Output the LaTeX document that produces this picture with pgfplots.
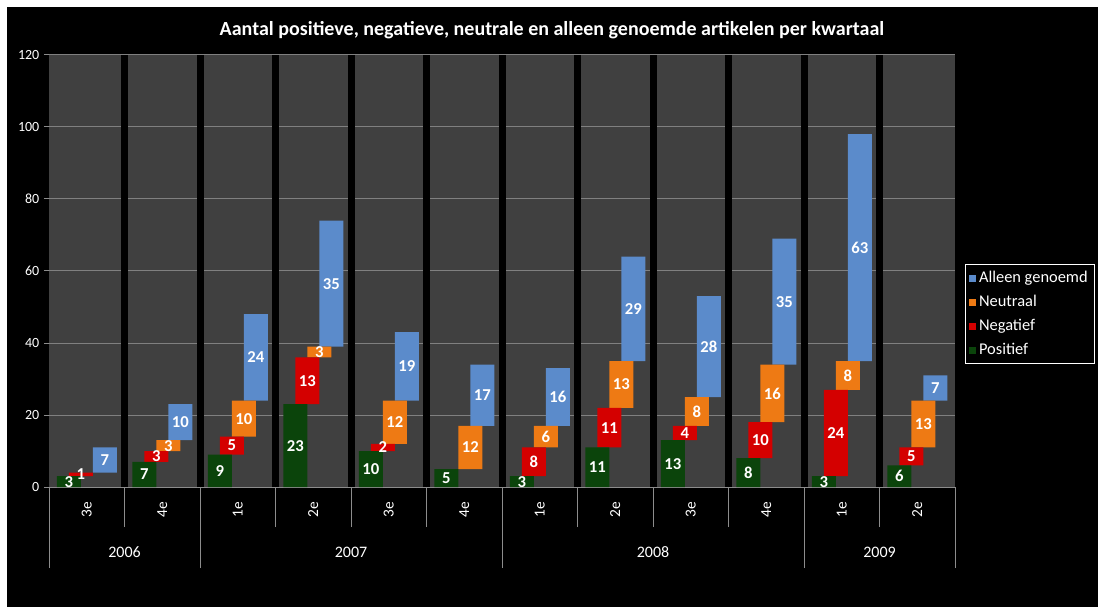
\documentclass[border=0pt]{standalone}
\usepackage{fontspec}
\setmainfont{Carlito}
\usepackage{pgfplots}
\usepackage{pgfplotstable}
\pgfplotsset{compat=1.18}

\definecolor{band}{HTML}{404040}
\definecolor{gridc}{HTML}{808080}
\definecolor{linec}{HTML}{8C8C8C}
\definecolor{cpos}{HTML}{0B440B}
\definecolor{cneg}{HTML}{D40000}
\definecolor{cneu}{HTML}{EE7A14}
\definecolor{call}{HTML}{5B8BCB}

% per kwartaal: positief, negatief, neutraal, alleen genoemd
\pgfplotstableread{
x pos neg neu all
0  3  1  0  7
1  7  3  3 10
2  9  5 10 24
3 23 13  3 35
4 10  2 12 19
5  5  0 12 17
6  3  8  6 16
7 11 11 13 29
8 13  4  8 28
9  8 10 16 35
10 3 24  8 63
11 6  5 13  7
}\data

\pgfplotsset{
  frame/.style={
    scale only axis, width=679.5pt, height=324pt,
    at={(36.75pt,90pt)}, anchor=south west,
    xmin=-0.5, xmax=11.5, ymin=0, ymax=120,
    /pgf/number format/assume math mode=true,
  },
  overlay axis/.style={
    frame, axis x line*=bottom, hide y axis,
    x axis line style={draw=none},
    tick align=outside,
    tick style={linec, line width=0.75pt},
  },
  vlabel/.style={
    draw=none, mark=none, nodes near coords, point meta=explicit,
    nodes near coords={\pgfmathfloatifflags{\pgfplotspointmeta}{0}{}{\pgfmathprintnumber{\pgfplotspointmeta}}},
    every node near coord/.append style={xshift=#1, anchor=center, text=white,
      font=\bfseries\fontsize{12.5}{14}\selectfont},
  },
}

\begin{document}
\begin{tikzpicture}
\fill[white] (0,0) rectangle (823.5pt,455.25pt);
\fill[black] (5.25pt,0) rectangle (823.5pt,450pt);
\path[use as bounding box] (0,0) rectangle (823.5pt,455.25pt);

% bars
\begin{axis}[frame,
  ybar stacked, bar width=18pt,
  axis background/.style={fill=band},
  axis x line*=bottom, axis y line*=left,
  x axis line style={linec, line width=0.75pt},
  y axis line style={draw=none},
  tick align=outside, major tick length=3.75pt,
  xtick style={draw=none},
  ytick style={linec, line width=0.75pt},
  xtick={0,...,11},
  xticklabels={3e,4e,1e,2e,3e,4e,1e,2e,3e,4e,1e,2e},
  x tick label style={yshift=-13pt, rotate=90, anchor=center, text=white,
    font=\fontsize{11.5}{13}\selectfont},
  ytick={0,20,...,120},
  y tick label style={text=white, font=\fontsize{10.5}{12}\selectfont},
  ymajorgrids, major grid style={gridc, line width=0.75pt},
  extra x ticks={0.5,1.5,...,10.5},
  extra x tick labels={},
  extra x tick style={grid=major, major grid style={black, line width=5.25pt}},
  legend image code/.code={\fill[#1] (0pt,-2.6pt) rectangle (5.2pt,2.6pt);},
  reverse legend,
  legend cell align=left,
  legend style={at={(1.011,0.4)}, anchor=west, fill=black, draw=white,
    line width=0.75pt, text=white, font=\fontsize{12.3}{14}\selectfont,
    row sep=4pt, inner xsep=3pt, inner ysep=3pt},
]
\addplot[fill=cpos, draw=none, bar shift=-13.5pt] table[x=x, y=pos] \data;
\addplot[fill=cneg, draw=none, bar shift=-4.5pt] table[x=x, y=neg] \data;
\addplot[fill=cneu, draw=none, bar shift=4.5pt] table[x=x, y=neu] \data;
\addplot[fill=call, draw=none, bar shift=13.5pt] table[x=x, y=all] \data;
\legend{Positief, Negatief, Neutraal, Alleen genoemd}
\end{axis}

% value labels and quarter separators
\begin{axis}[overlay axis,
  xtick={0.5,1.5,...,10.5}, xticklabels={},
  major tick length=30pt,
]
\addplot[vlabel=-13.5pt] table[x=x, y expr={\thisrow{pos}/2}, meta=pos] \data;
\addplot[vlabel=-4.5pt] table[x=x, y expr={\thisrow{pos}+\thisrow{neg}/2}, meta=neg] \data;
\addplot[vlabel=4.5pt] table[x=x, y expr={\thisrow{pos}+\thisrow{neg}+\thisrow{neu}/2}, meta=neu] \data;
\addplot[vlabel=13.5pt] table[x=x, y expr={\thisrow{pos}+\thisrow{neg}+\thisrow{neu}+\thisrow{all}/2}, meta=all] \data;
\end{axis}

% years and year separators
\begin{axis}[overlay axis,
  xtick={0.5,3.5,7.5,10.5}, xticklabels={2006,2007,2008,2009},
  major tick length=0pt,
  minor xtick={-0.5,1.5,5.5,9.5,11.5}, minor tick length=60.75pt,
  x tick label style={anchor=center, yshift=-49pt, text=white,
    font=\fontsize{12}{14}\selectfont},
]
\addplot[draw=none] coordinates {(0,0)};
\end{axis}

\node[text=white, font=\bfseries\fontsize{15}{18}\selectfont] at (414pt,432.75pt)
  {Aantal positieve, negatieve, neutrale en alleen genoemde artikelen per kwartaal};
\end{tikzpicture}
\end{document}
